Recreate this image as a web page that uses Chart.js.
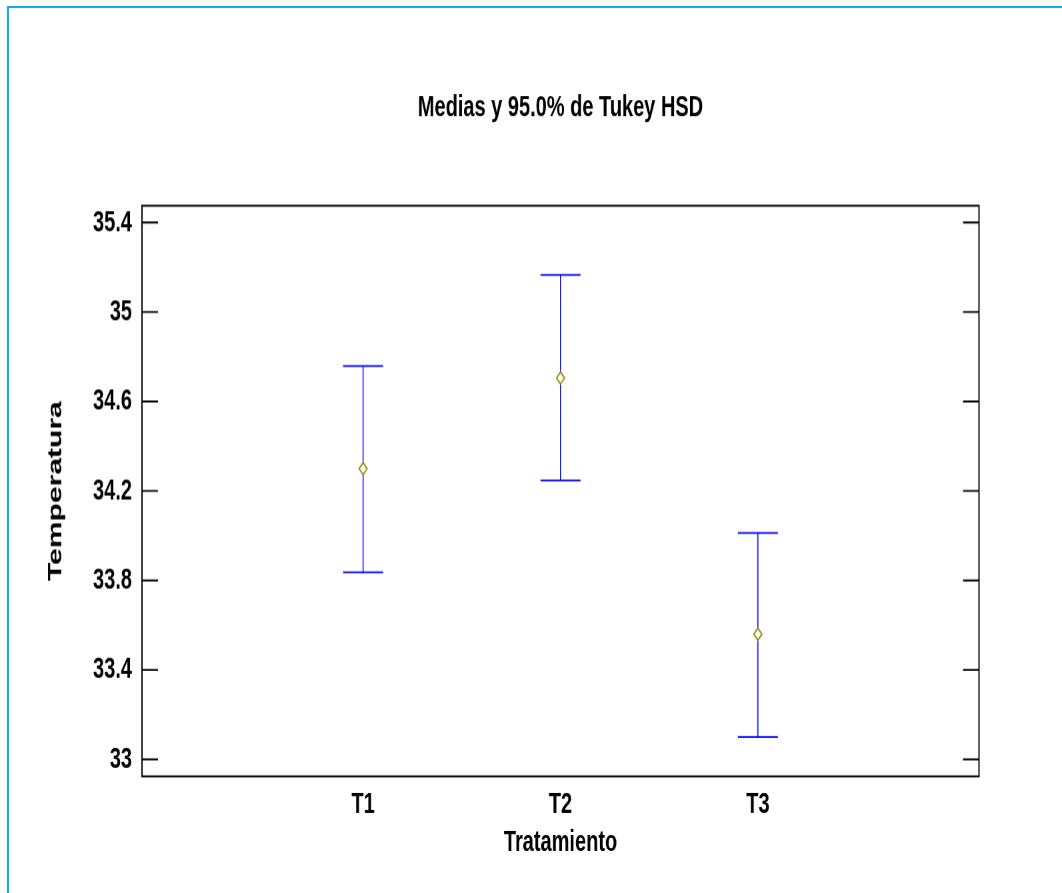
<!DOCTYPE html>
<html>
<head>
<meta charset="utf-8">
<script src="https://cdn.jsdelivr.net/npm/chart.js@4"></script>
<style>
  html, body { margin: 0; padding: 0; background: #fff; overflow: hidden; }
  #frame {
    position: absolute; left: 7px; top: 6px; width: 1100px; height: 950px;
    border-left: 2px solid #10aeee; border-top: 2px solid #10aeee;
  }
  /* the original picture is stretched vertically, so the canvas is too */
  #tukey {
    position: absolute; left: 0; top: 0;
    transform-origin: 0 0; transform: scaleY(1.50084);
  }
</style>
</head>
<body>
<div id="frame"></div>
<canvas id="tukey" width="1062" height="595"></canvas>
<script>
const categories = ['T1', 'T2', 'T3'];
const means = [34.30, 34.705, 33.56];
const lowerLimits = [33.836, 34.247, 33.10];
const upperLimits = [34.758, 35.166, 34.012];
const yTicks = [33, 33.4, 33.8, 34.2, 34.6, 35, 35.4];
const yTickLabels = ['33', '33.4', '33.8', '34.2', '34.6', '35', '35.4'];

const fontFamily = '"Liberation Sans", Arial, sans-serif';

// box round the plot plus short ticks pointing inwards on both sides
const boxPlugin = {
    id: 'boxAndTicks',
    afterDraw(chart) {
        const ctx = chart.ctx;
        const a = chart.chartArea;
        const y = chart.scales.y;
        ctx.save();
        ctx.strokeStyle = '#000';
        ctx.lineWidth = 1.3;
        ctx.strokeRect(a.left, a.top, a.right - a.left, a.bottom - a.top);
        ctx.lineWidth = 1.2;
        ctx.beginPath();
        yTicks.forEach(function (v) {
            const py = y.getPixelForValue(v);
            ctx.moveTo(a.left, py);
            ctx.lineTo(a.left + 16, py);
            ctx.moveTo(a.right - 16, py);
            ctx.lineTo(a.right, py);
        });
        ctx.stroke();
        ctx.restore();
    }
};

const meanSet = {
    label: 'Media',
    data: means.map((m, i) => ({ x: i + 1, y: m })),
    pointStyle: 'rectRot',
    pointRadius: 4,
    pointBackgroundColor: '#fff',
    pointBorderColor: '#8c8c00',
    pointBorderWidth: 1.2,
};

const intervalSets = categories.map((c, i) => ({
    label: c,
    data: [{ x: i + 1, y: lowerLimits[i] }, { x: i + 1, y: upperLimits[i] }],
    showLine: true,
    borderColor: '#0000ff',
    borderWidth: 1,
    pointStyle: 'line',
    pointRadius: 20,
    pointBorderColor: '#0000ff',
    pointBorderWidth: 1.2,
}));

var ctx = document.getElementById('tukey').getContext('2d');

var myChart = new Chart(ctx, {
    type: 'scatter',
    data: {
        datasets: [meanSet].concat(intervalSets),
    },
    plugins: [boxPlugin],
    options: {
        responsive: false,
        devicePixelRatio: 1.5,
        animation: false,
        events: [],
        layout: {
            padding: { left: 0, right: 83, top: 0, bottom: 0 },
        },
        plugins: {
            legend: { display: false },
            tooltip: { enabled: false },
            title: {
                display: true,
                text: 'Medias y 95.0% de Tukey HSD',
                color: '#000',
                fullSize: false,
                font: { family: fontFamily, size: 20, weight: 'bold' },
                padding: { top: 59.6, bottom: 53.4 },
            },
        },
        scales: {
            x: {
                type: 'linear',
                min: -0.12,
                max: 4.12,
                afterBuildTicks: function (scale) {
                    scale.ticks = categories.map((c, i) => ({ value: i + 1 }));
                },
                afterFit: function (scale) {
                    scale.height = 78;
                },
                grid: { display: false, drawTicks: false },
                border: { display: false },
                ticks: {
                    autoSkip: false,
                    maxRotation: 0,
                    padding: 7,
                    color: '#000',
                    font: { family: fontFamily, size: 20, weight: 'bold' },
                    callback: function (value) {
                        return categories[value - 1];
                    }
                },
                title: {
                    display: true,
                    text: 'Tratamiento',
                    color: '#000',
                    font: { family: fontFamily, size: 20, weight: 'bold' },
                    padding: { top: 0, bottom: 22 },
                },
            },
            y: {
                min: 32.924,
                max: 35.475,
                afterBuildTicks: function (scale) {
                    scale.ticks = yTicks.map(v => ({ value: v }));
                },
                afterFit: function (scale) {
                    scale.width = 142;
                },
                grid: { display: false, drawTicks: false },
                border: { display: false },
                ticks: {
                    padding: 10,
                    color: '#000',
                    font: { family: fontFamily, size: 20, weight: 'bold' },
                    callback: function (value, index) {
                        return yTickLabels[index];
                    }
                },
                title: {
                    display: true,
                    text: 'Temperatura',
                    color: '#000',
                    font: { family: fontFamily, size: 20, weight: 'bold' },
                    padding: { top: 43.5, bottom: 0 },
                },
            },
        },
    },
});
</script>
</body>
</html>
